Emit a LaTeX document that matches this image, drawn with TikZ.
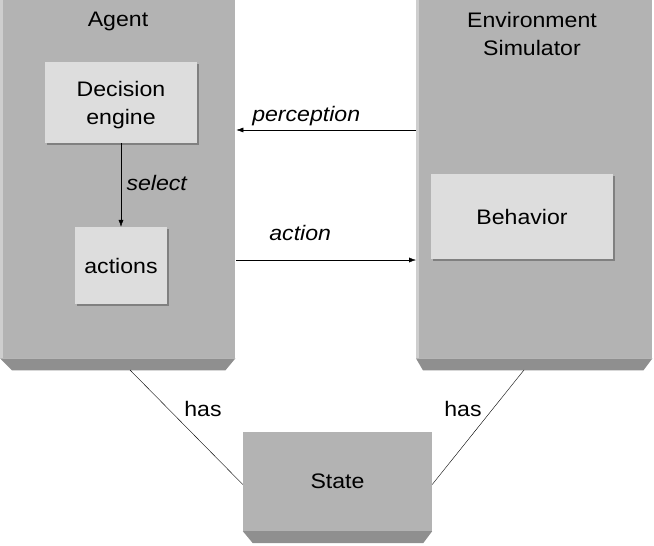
\documentclass[tikz,border=0pt]{standalone}
\usepackage{fontspec}
\setmainfont[FakeStretch=1.1]{Liberation Sans}
\usetikzlibrary{arrows.meta,shadows,calc}
\definecolor{panelgray}{RGB}{179,179,179}
\definecolor{bevelgray}{RGB}{143,143,143}
\definecolor{boxgray}{RGB}{221,221,221}
\definecolor{edgegray}{RGB}{206,206,206}

\begin{document}
\begin{tikzpicture}[x=1pt, y=-1pt,
    panel/.style={rectangle, fill=panelgray, inner sep=0pt},
    bevel/.style={fill=bevelgray},
    inbox/.style={rectangle, fill=boxgray, inner sep=0pt, align=center,
        drop shadow={shadow xshift=2pt, shadow yshift=-2pt, fill=black!50, opacity=1},
        font=\fontsize{21}{28}\selectfont},
    title/.style={align=center, font=\fontsize{21}{28}\selectfont},
    tag/.style={font=\fontsize{21}{28}\selectfont\itshape},
    link/.style={draw, -{Latex[length=7pt,width=5pt]}}]
    \useasboundingbox (0,0) rectangle (654,546);

    % the two panels
    \node[panel, anchor=north west, minimum width=235pt, minimum height=358pt] (agent) at (0,0) {};
    \node[panel, anchor=north west, minimum width=236pt, minimum height=358pt] (env) at (416,0) {};
    \fill[edgegray] (agent.north west) rectangle ($(agent.south west)+(3,0)$);
    \fill[edgegray] (env.north west) rectangle ($(env.south west)+(3,0)$);
    \fill[bevel] (agent.south west) -- (agent.south east) -- ++(-10,12) -- ($(agent.south west)+(12,12)$) -- cycle;
    \fill[bevel] (env.south west) -- (env.south east) -- ++(-9,12) -- ($(env.south west)+(7,12)$) -- cycle;
    \node[title] (agenttitle) at (118,21) {Agent};
    \node[title] (envtitle) at (532,34) {Environment\\Simulator};

    % inner boxes
    \node[inbox, minimum width=152pt, minimum height=81pt] (engine) at (121,102.5) {\\[-7pt]Decision\\engine};
    \node[inbox, minimum width=92pt, minimum height=77pt] (actions) at (121,265.5) {actions};
    \node[inbox, minimum width=182pt, minimum height=85pt] (behavior) at (522,216.5) {Behavior};

    % state
    \node[panel, title, minimum width=189pt, minimum height=99pt] (state) at (337.5,481.5) {State};
    \fill[bevel] (state.south west) -- (state.south east) -- ++(-9,12) -- ($(state.south west)+(10,12)$) -- cycle;

    % connectors
    \draw[link] (engine.south) -- (actions.north) node[midway, right, tag, xshift=2pt, yshift=2pt] {select};
    \draw[link] ($(env.north west)+(0,130)$) -- ($(agent.north east)+(1,130)$)
        node[midway, above, tag, xshift=-20pt, yshift=1pt] {perception};
    \draw[link] ($(agent.north east)+(1,260)$) -- ($(env.north west)+(0,260)$)
        node[midway, above, tag, xshift=-26pt, yshift=16pt] {action};
    \coordinate (agentfoot) at (130,370);
    \coordinate (envfoot) at (524,370);
    \draw (agentfoot) -- ($(state.west)+(0,3)$);
    \draw (envfoot) -- ($(state.east)+(0,3)$);
    \node[title] (hasleft) at (203,409) {has};
    \node[title] (hasright) at (463,409) {has};
\end{tikzpicture}
\end{document}
